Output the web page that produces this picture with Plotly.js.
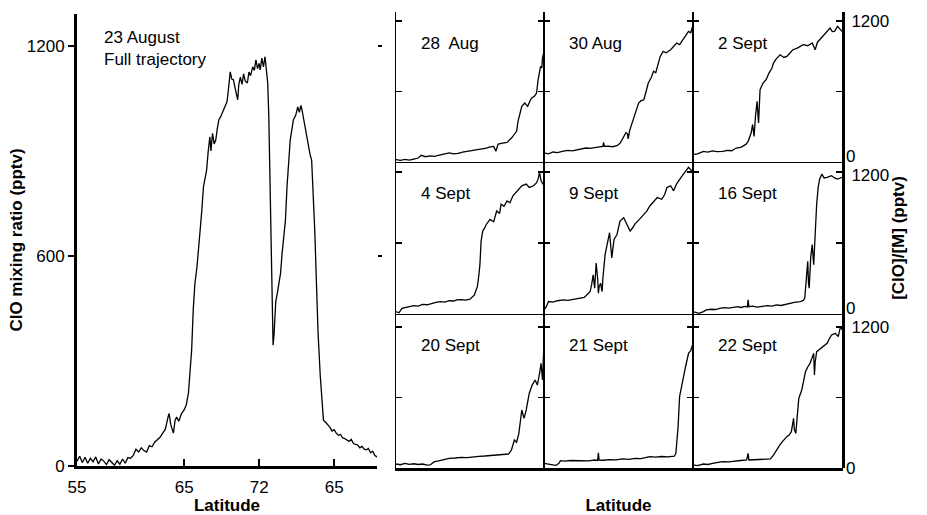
<!DOCTYPE html>
<html>
<head>
<meta charset="utf-8">
<script src="https://cdn.plot.ly/plotly-3.0.1.min.js"></script>
<style>html,body{margin:0;padding:0;background:#fff;}#chart{width:927px;height:515px;}</style>
</head>
<body>
<div id="chart"></div>
<script>
// ---------- Left panel: 23 August, full trajectory ----------
// x = position along trajectory (degrees of latitude travelled), labelled by latitude
const latTickVals = [0, 10, 17, 24];
const latTickText = ['55', '65', '72', '65'];
const cloTickVals = [0, 600, 1200];

const aug23X = [0,0.25,0.5,0.75,1,1.25,1.5,1.75,2,2.25,2.5,2.75,3,3.25,3.5,3.75,4,4.25,4.5,4.75,5,5.25,5.5,5.75,6,6.25,6.5,6.75,7,7.25,7.5,7.75,8,8.25,8.5,8.6,8.75,9,9.15,9.3,9.5,9.75,10,10.2,10.4,10.55,10.7,10.85,11,11.2,11.35,11.5,11.65,11.8,11.95,12.1,12.25,12.4,12.5,12.65,12.8,12.95,13.1,13.25,13.4,13.6,13.8,14,14.15,14.3,14.45,14.6,14.75,14.9,15,15.1,15.25,15.4,15.55,15.7,15.9,16.05,16.2,16.4,16.55,16.7,16.85,17,17.1,17.25,17.4,17.55,17.7,17.8,17.9,18,18.1,18.2,18.3,18.4,18.55,18.7,18.85,19,19.15,19.3,19.45,19.6,19.75,19.9,20.05,20.2,20.4,20.6,20.75,20.9,21,21.15,21.3,21.45,21.6,21.75,21.9,22.05,22.2,22.35,22.5,22.7,22.9,23,23.2,23.4,23.6,23.8,24,24.2,24.4,24.6,24.8,25,25.2,25.4,25.6,25.8,26,26.2,26.4,26.6,26.8,27,27.2,27.4,27.6,27.8,28];
const aug23Y = [14,28,10,25,8,22,12,26,6,20,14,4,18,9,2,15,5,20,8,24,22,30,48,40,52,44,40,58,55,68,74,82,94,105,140,150,118,94,130,140,128,150,160,175,208,280,331,446,520,569,620,666,730,797,820,846,900,940,900,950,920,931,965,990,997,1010,1026,1040,1080,1126,1105,1103,1080,1060,1046,1090,1111,1090,1120,1100,1094,1125,1115,1140,1130,1160,1135,1150,1131,1165,1140,1169,1120,1094,1000,854,700,569,345,380,470,494,520,551,610,666,700,797,860,931,960,989,1000,1026,1010,1030,1017,990,969,940,911,890,874,780,666,520,380,260,189,131,125,118,111,100,104,94,88,90,80,78,74,70,76,64,62,60,52,56,48,46,50,38,42,30,26];

// ---------- Right grid: ClO along each flight (normalised position along latitude run) ----------
const panelNames = ['28\u00a0 Aug', '30 Aug', '2 Sept', '4 Sept', '9 Sept', '16 Sept', '20 Sept', '21 Sept', '22 Sept'];
const rightTopTick = [1200];
const rightTopText = ['1200'];
const rightZeroTick = [0];
const rightZeroText = ['0'];

const aug28X = [0,.03,.06,.09,.12,.15,.17,.2,.23,.26,.3,.33,.36,.39,.42,.45,.48,.52,.55,.58,.61,.635,.66,.675,.69,.72,.75,.78,.8,.815,.825,.835,.85,.87,.89,.905,.917,.935,.95,.96,.97,.977,.985,.99,1.0];
const aug28Y = [20,14,22,16,25,34,57,45,52,48,60,66,77,70,74,85,90,99,104,112,118,128,133,91,153,160,167,204,240,261,350,403,474,502,474,520,545,560,587,700,760,814,800,885,942];

const aug30X = [0,.03,.06,.09,.13,.16,.19,.22,.25,.28,.31,.34,.37,.395,.4,.405,.43,.46,.49,.51,.53,.55,.56,.565,.575,.59,.61,.635,.65,.67,.685,.70,.72,.735,.75,.76,.78,.80,.82,.85,.87,.89,.91,.94,.955,.97,.985,1.0];
const aug30Y = [77,70,85,80,92,99,95,104,110,119,116,125,128,133,167,133,136,130,139,160,204,250,240,196,270,332,417,502,520,530,600,672,720,772,760,814,899,942,930,956,985,1013,1000,1055,1080,1112,1100,1169];

const sep2X = [0,.03,.07,.1,.13,.16,.2,.23,.26,.29,.32,.34,.355,.37,.38,.39,.40,.41,.42,.43,.44,.45,.47,.49,.51,.53,.54,.56,.585,.61,.63,.65,.67,.70,.74,.77,.80,.82,.835,.85,.87,.89,.92,.935,.95,.97,.985,1.0];
const sep2Y = [62,70,91,85,95,88,91,99,96,119,125,139,150,176,210,247,318,218,400,516,332,616,672,700,757,800,842,880,913,890,899,930,956,970,999,990,1013,956,1020,1041,1070,1098,1140,1110,1112,1155,1130,1112];

const sep4X = [0,.02,.04,.07,.09,.12,.15,.18,.21,.24,.27,.3,.33,.36,.39,.41,.44,.47,.5,.53,.54,.55,.56,.567,.575,.586,.6,.61,.635,.66,.68,.70,.71,.73,.75,.77,.79,.82,.85,.88,.9,.93,.95,.96,.97,.98,1.0];
const sep4Y = [20,10,48,55,62,70,66,82,78,90,98,105,100,112,110,119,122,118,125,162,200,233,330,417,616,701,730,757,800,780,871,850,928,910,956,940,999,1040,1084,1098,1070,1084,1110,1140,1197,1126,1084];

const sep9X = [0,.015,.03,.06,.09,.13,.16,.2,.24,.27,.29,.31,.32,.33,.34,.35,.36,.365,.37,.38,.39,.395,.41,.42,.43,.44,.455,.47,.49,.51,.535,.555,.578,.595,.61,.64,.67,.69,.71,.735,.76,.79,.81,.825,.85,.87,.89,.92,.94,.97,.99,1.0];
const sep9Y = [34,60,105,100,112,119,115,125,133,140,165,190,250,332,218,431,300,176,230,261,190,300,502,559,620,687,474,630,672,786,814,757,701,729,760,800,843,870,913,950,984,970,1010,1069,1084,1041,1100,1155,1190,1240,1211,1211];

const sep16X = [0,.02,.04,.07,.09,.12,.15,.18,.21,.24,.27,.3,.32,.35,.365,.37,.375,.4,.43,.47,.5,.53,.56,.59,.62,.65,.68,.72,.74,.75,.76,.77,.775,.78,.79,.80,.81,.82,.83,.84,.85,.865,.88,.9,.93,.95,.97,1.0];
const sep16Y = [20,12,6,20,34,40,38,48,54,50,58,62,55,64,60,120,62,66,58,62,70,66,77,72,82,91,98,105,115,133,300,445,260,218,480,587,417,700,928,1070,1140,1183,1150,1155,1169,1150,1140,1155];

const sep20X = [0,.03,.06,.09,.12,.15,.18,.21,.23,.25,.26,.28,.31,.34,.36,.4,.44,.48,.52,.56,.6,.635,.67,.7,.73,.76,.78,.80,.815,.83,.85,.865,.88,.89,.90,.92,.94,.955,.965,.97,.98,.99,1.0];
const sep20Y = [34,28,40,31,36,30,34,24,26,40,54,58,66,72,82,85,90,88,96,99,102,105,108,112,114,119,153,238,220,295,494,423,494,560,635,706,749,706,760,806,891,749,1061];

const sep21X = [0,.03,.06,.08,.1,.11,.14,.18,.22,.26,.3,.34,.36,.365,.37,.4,.44,.48,.53,.57,.61,.65,.69,.71,.75,.79,.83,.86,.875,.885,.89,.9,.91,.92,.93,.95,.97,.985,1.0];
const sep21Y = [40,30,26,22,40,62,58,64,62,66,60,68,64,130,68,66,72,70,77,74,82,80,90,96,92,98,94,96,100,125,200,352,607,680,749,862,976,1000,1061];

const sep22X = [0,.03,.07,.1,.14,.17,.2,.24,.28,.32,.36,.37,.375,.4,.44,.48,.52,.54,.56,.58,.60,.615,.63,.645,.66,.675,.68,.69,.70,.71,.73,.755,.77,.785,.80,.81,.815,.82,.83,.86,.88,.90,.915,.93,.955,.975,.99,1.0];
const sep22Y = [26,20,34,30,42,46,54,52,60,64,68,125,68,70,72,75,77,110,153,190,224,250,267,280,309,423,330,295,480,593,664,820,860,891,940,976,792,900,990,1018,1040,1061,1100,1132,1146,1118,1203,1180];

const panelX = [aug28X, aug30X, sep2X, sep4X, sep9X, sep16X, sep20X, sep21X, sep22X];
const panelY = [aug28Y, aug30Y, sep2Y, sep4Y, sep9Y, sep16Y, sep20Y, sep21Y, sep22Y];

// ---------- Layout geometry (pixels -> paper fractions) ----------
const W = 927, H = 515;
const fx = px => px / W;
const fy = py => 1 - py / H;
const FONT = 'Arial, "Liberation Sans", Helvetica, sans-serif';

const colPx = [[396, 544], [544, 693], [693, 842]];
const rowPx = [[12, 162], [162, 314], [314, 468]];
const rowTop = [1277, 1285, 1311];
const topLabelShift = [0, 3, 0];     // px shift of the "1200" labels per row (positive = down)
const zeroLabelShift = [-6, -6, 0];  // px shift of the "0" labels per row (negative = up)

const lineStyle = {color: '#000', width: 1.3};
const hidden = {color: 'rgba(0,0,0,0)', width: 0};

const traces = [{
  type: 'scatter', mode: 'lines', x: aug23X, y: aug23Y,
  xaxis: 'x', yaxis: 'y', line: lineStyle, hoverinfo: 'skip', showlegend: false
}, {
  // carrier so the right-hand tick axis of the left panel is drawn
  type: 'scatter', mode: 'lines', x: aug23X, y: aug23Y,
  xaxis: 'x', yaxis: 'y11', line: hidden, hoverinfo: 'skip', showlegend: false
}];

const layout = {
  width: W, height: H, autosize: false,
  margin: {l: 0, r: 0, t: 0, b: 0, pad: 0},
  paper_bgcolor: '#fff', plot_bgcolor: 'rgba(0,0,0,0)',
  showlegend: false,
  font: {family: FONT, color: '#000', size: 16},
  xaxis: {
    domain: [fx(77), fx(377)], anchor: 'y', range: [0, 28],
    tickvals: latTickVals, ticktext: latTickText,
    ticks: 'inside', ticklen: 7, tickwidth: 1.5, tickcolor: '#000',
    showline: true, linewidth: 3, linecolor: '#000',
    showgrid: false, zeroline: false,
    tickfont: {size: 17},
    ticklabelstandoff: 4,
    title: {text: '<b>Latitude</b>', font: {size: 17}, standoff: 4}
  },
  yaxis: {
    domain: [fy(466), fy(14)], anchor: 'x', range: [0, 1291],
    tickvals: cloTickVals,
    ticks: 'outside', ticklen: 6, tickwidth: 1.5, tickcolor: '#000',
    showline: true, linewidth: 3, linecolor: '#000',
    showgrid: false, zeroline: false,
    tickfont: {size: 17},
    title: {text: '<b>ClO mixing ratio (pptv)</b>', font: {size: 17}, standoff: 0}
  },
  yaxis11: {
    overlaying: 'y', side: 'right', anchor: 'x', range: [0, 1291],
    tickvals: [600, 1200], ticks: 'outside', ticklen: 4, tickwidth: 1.5, tickcolor: '#000',
    showticklabels: false, showline: false, showgrid: false, zeroline: false
  },
  annotations: [
    {xref: 'x domain', yref: 'y domain', x: 0.083, y: (466 - 37.5) / 452, xanchor: 'left', yanchor: 'middle',
     text: '23 August', showarrow: false, font: {size: 17}},
    {xref: 'x domain', yref: 'y domain', x: 0.083, y: (466 - 59.5) / 452, xanchor: 'left', yanchor: 'middle',
     text: 'Full trajectory', showarrow: false, font: {size: 17}}
  ]
};

for (let p = 0; p < 9; p++) {
  const r = Math.floor(p / 3), c = p % 3, n = p + 2;
  traces.push({
    type: 'scatter', mode: 'lines', x: panelX[p], y: panelY[p],
    xaxis: 'x' + n, yaxis: 'y' + n, line: lineStyle, hoverinfo: 'skip', showlegend: false
  });
  layout['xaxis' + n] = {
    domain: [fx(colPx[c][0]), fx(colPx[c][1])], anchor: 'y' + n, range: [0, 1],
    showticklabels: false, ticks: '', showgrid: false, zeroline: false,
    showline: true, linecolor: '#000', linewidth: r === 2 ? 3 : 1
  };
  layout['yaxis' + n] = {
    domain: [fy(rowPx[r][1]), fy(rowPx[r][0])], anchor: 'x' + n, range: [0, rowTop[r]],
    tickvals: [600, 1200], ticks: 'inside', ticklen: 6, tickwidth: 1.2, tickcolor: '#000',
    showticklabels: false, showgrid: false, zeroline: false,
    showline: true, mirror: 'ticks', linecolor: '#000', linewidth: 1.1
  };
  layout.annotations.push({
    xref: 'x' + n + ' domain', yref: 'y' + n + ' domain', x: 0.155, y: 0.793,
    xanchor: 'left', yanchor: 'middle', text: panelNames[p], showarrow: false, font: {size: 17}
  });
}
// x title of the grid, on the bottom-middle panel
layout.xaxis9.title = {text: '<b>Latitude</b>', font: {size: 17}, standoff: 34};

// right-hand labelled axes, per row (on the column-3 panels): "1200" axis with the thick line, and a "0" axis
for (let r = 0; r < 3; r++) {
  const p = 3 * r + 2;          // column-3 panel index
  const base = p + 2;           // its axis number
  const nTop = 12 + r, nZero = 15 + r;
  [nTop, nZero].forEach(n => traces.push({
    type: 'scatter', mode: 'lines', x: panelX[p], y: panelY[p],
    xaxis: 'x' + base, yaxis: 'y' + n, line: hidden, hoverinfo: 'skip', showlegend: false
  }));
  layout['yaxis' + nTop] = {
    overlaying: 'y' + base, side: 'right', anchor: 'x' + base, range: [0, rowTop[r]],
    tickvals: rightTopTick, ticktext: rightTopText, ticks: '',
    showline: true, linewidth: 3, linecolor: '#000',
    showgrid: false, zeroline: false, tickfont: {size: 17}, ticklabelstandoff: 3,
    ticklabelshift: topLabelShift[r]
  };
  layout['yaxis' + nZero] = {
    overlaying: 'y' + base, side: 'right', anchor: 'x' + base, range: [0, rowTop[r]],
    tickvals: rightZeroTick, ticktext: rightZeroText, ticks: '',
    showline: false, showgrid: false, zeroline: false, tickfont: {size: 17}, ticklabelstandoff: 3,
    ticklabelshift: zeroLabelShift[r]
  };
}
layout.yaxis13.title = {text: '<b>[ClO]/[M] (pptv)</b>', font: {size: 17}, standoff: 0};

Plotly.newPlot('chart', traces, layout, {staticPlot: true, displayModeBar: false});
</script>
</body>
</html>
